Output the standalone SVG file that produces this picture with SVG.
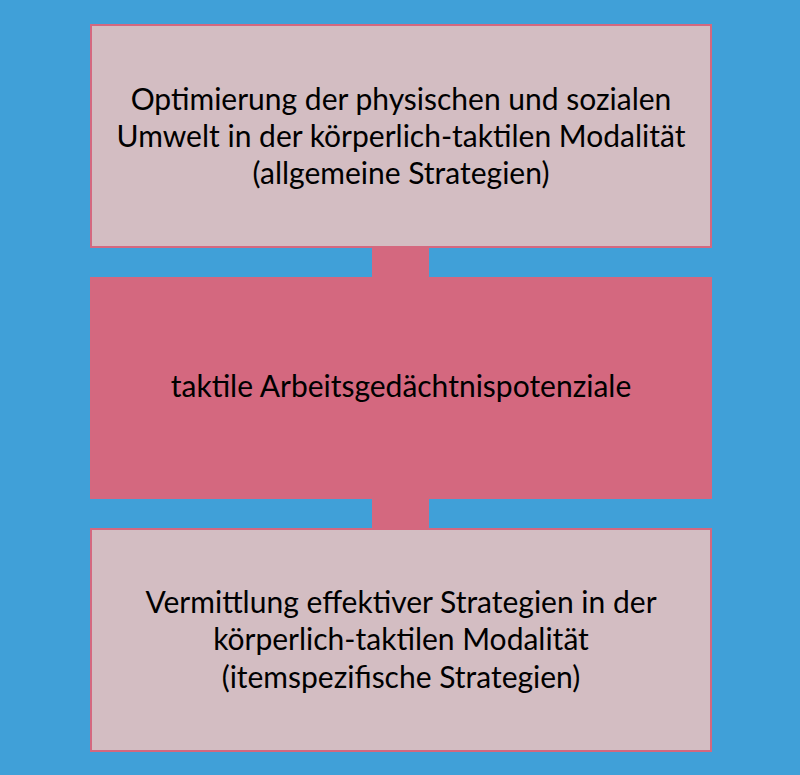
<svg xmlns="http://www.w3.org/2000/svg" width="800" height="775" viewBox="0 0 800 775">
<style>
.light{fill:#D3BDC2;stroke:#D4687F;stroke-width:2}
.dark{fill:#D4687F}
.conn{fill:#D4687F}
text{font-family:Lato,"Open Sans","Liberation Sans",sans-serif;font-size:30px;fill:#000;text-anchor:middle}
</style>
<rect width="800" height="775" fill="#40A0D8"/>
<g id="connectors">
<rect class="conn" x="372" y="246" width="57" height="32"/>
<rect class="conn" x="372" y="498" width="57" height="32"/>
</g>
<g id="top">
<rect class="light" x="91" y="25" width="620" height="222"/>
<text x="401" y="110">Optimierung der physischen und sozialen</text>
<text x="401" y="147">Umwelt in der körperlich-taktilen Modalität</text>
<text x="401" y="184">(allgemeine Strategien)</text>
</g>
<g id="middle">
<rect class="dark" x="90" y="277" width="622" height="222"/>
<text x="401" y="397">taktile Arbeitsgedächtnispotenziale</text>
</g>
<g id="bottom">
<rect class="light" x="91" y="529" width="620" height="222"/>
<text x="401" y="613">Vermittlung effektiver Strategien in der</text>
<text x="401" y="650">körperlich-taktilen Modalität</text>
<text x="401" y="688">(itemspezifische Strategien)</text>
</g>
</svg>
